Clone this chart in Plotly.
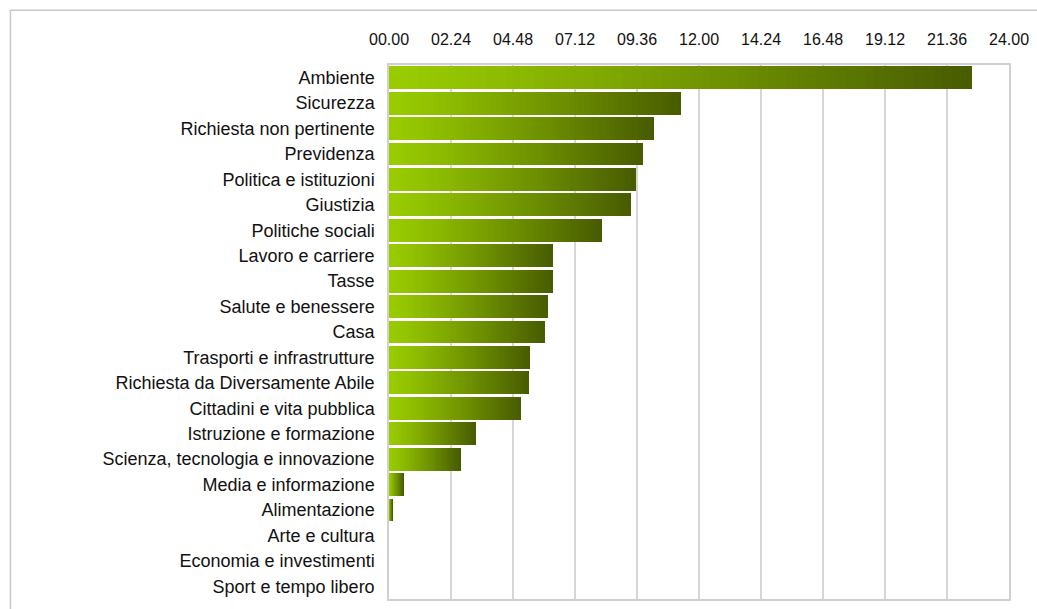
import plotly.graph_objects as go

# Categories (top to bottom) and their values
categories = [
    "Ambiente", "Sicurezza", "Richiesta non pertinente", "Previdenza",
    "Politica e istituzioni", "Giustizia", "Politiche sociali",
    "Lavoro e carriere", "Tasse", "Salute e benessere", "Casa",
    "Trasporti e infrastrutture", "Richiesta da Diversamente Abile",
    "Cittadini e vita pubblica", "Istruzione e formazione",
    "Scienza, tecnologia e innovazione", "Media e informazione",
    "Alimentazione", "Arte e cultura", "Economia e investimenti",
    "Sport e tempo libero",
]
values = [
    22.55, 11.31, 10.27, 9.85, 9.58, 9.38, 8.23, 6.35, 6.35, 6.15, 6.04,
    5.46, 5.42, 5.12, 3.35, 2.77, 0.58, 0.15, 0.0, 0.0, 0.0,
]

tick_values = [0, 2.4, 4.8, 7.2, 9.6, 12, 14.4, 16.8, 19.2, 21.6, 24]
tick_labels = ["00.00", "02.24", "04.48", "07.12", "09.36", "12.00",
               "14.24", "16.48", "19.12", "21.36", "24.00"]

# Horizontal gradient: each bar is split into equal stacked slices
LIGHT = (153, 204, 0)
DARK = (72, 92, 0)
N_SLICES = 60

W, H = 1037, 609
L, R, T, B = 389, 24, 65, 8

fig = go.Figure()
for k in range(N_SLICES):
    f = k / (N_SLICES - 1)
    f = f ** 1.15
    rgb = tuple(round(a + (b - a) * f) for a, b in zip(LIGHT, DARK))
    fig.add_trace(go.Bar(
        x=[v / N_SLICES for v in values],
        y=categories,
        orientation="h",
        marker=dict(color="rgb(%d,%d,%d)" % rgb, line=dict(width=0)),
        showlegend=False,
        hoverinfo="skip",
    ))

# Outer chart frame
pw, ph = W - L - R, H - T - B
fig.add_shape(
    type="rect", xref="paper", yref="paper",
    x0=(8 - L) / pw, x1=(W + 5 - L) / pw,
    y0=(H - B - (H + 5)) / ph, y1=(H - B - 10) / ph,
    line=dict(color="#c8c8c8", width=1.5), fillcolor="rgba(0,0,0,0)",
    layer="below",
)

fig.update_layout(
    width=W, height=H,
    margin=dict(l=L, r=R, t=T, b=B),
    barmode="stack",
    bargap=0.1,
    plot_bgcolor="white",
    paper_bgcolor="white",
    font=dict(family="Liberation Sans, Arial, sans-serif", color="#111111"),
)
fig.update_xaxes(
    side="top",
    range=[0, 24],
    tickvals=tick_values,
    ticktext=tick_labels,
    tickfont=dict(size=16),
    ticks="",
    ticklabelstandoff=12,
    showgrid=True,
    gridcolor="#d6d6d6",
    gridwidth=1.5,
    zeroline=False,
    showline=True,
    mirror=True,
    linecolor="#d0d0d0",
    linewidth=1.5,
)
fig.update_yaxes(
    categoryorder="array",
    categoryarray=categories,
    autorange="reversed",
    tickfont=dict(size=18),
    ticks="",
    ticklabelstandoff=9,
    showgrid=False,
    showline=True,
    mirror=True,
    linecolor="#d0d0d0",
    linewidth=1.5,
)

fig.write_html("out.html")
